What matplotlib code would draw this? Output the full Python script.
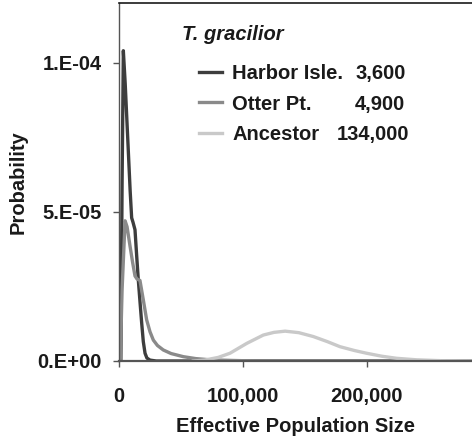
import matplotlib
matplotlib.use('Agg')
import matplotlib.pyplot as plt
import matplotlib.ticker as mtick

plt.rcParams['font.family'] = ['Liberation Sans', 'DejaVu Sans']
plt.rcParams['font.weight'] = 'bold'
plt.rcParams['axes.labelweight'] = 'bold'
plt.rcParams['font.size'] = 14.5

harbor_n = [0, 1500, 2500, 3500, 5000, 7000, 9000, 10200, 11300, 12900, 14300,
            15600, 17000, 18300, 19600, 21000, 22500, 25000, 30000, 290000]
harbor_p = [0, 0, 6.0e-5, 1.04e-4, 9.3e-5, 7.5e-5, 5.7e-5, 4.8e-5, 4.65e-5, 4.4e-5,
            3.5e-5, 2.7e-5, 1.95e-5, 1.27e-5, 6.5e-6, 2.6e-6, 1.0e-6, 3e-7, 0, 0]

otter_n = [0, 1000, 2500, 4900, 6500, 8900, 11000, 12900, 14500, 16900, 19600,
           22300, 25000, 27700, 31000, 35700, 42000, 51900, 62000, 73400, 90000,
           110000, 290000]
otter_p = [0, 0, 2.4e-5, 4.7e-5, 4.5e-5, 3.85e-5, 3.3e-5, 2.85e-5, 2.75e-5, 2.7e-5,
           2.05e-5, 1.38e-5, 9.8e-6, 7.0e-6, 5.2e-6, 3.7e-6, 2.5e-6, 1.45e-6, 8e-7,
           4e-7, 2e-7, 0, 0]

anc_n = [60000, 69000, 80000, 89500, 103000, 116400, 125000, 134000, 145000,
         156700, 168000, 178200, 190000, 199700, 212000, 224000, 240000, 260000,
         290000]
anc_p = [0, 3e-7, 1.2e-6, 2.6e-6, 5.9e-6, 8.7e-6, 9.6e-6, 1.0e-5, 9.5e-6, 8.2e-6,
         6.5e-6, 4.8e-6, 3.5e-6, 2.6e-6, 1.6e-6, 9e-7, 4e-7, 1e-7, 0]

names = ['Harbor Isle.', 'Otter Pt.', 'Ancestor']
ne_labels = ['3,600', '4,900', '134,000']
colors = ['#3d3d3d', '#8a8a8a', '#c9c9c9']

xticks = [0, 100000, 200000]
xticklabels = ['0', '100,000', '200,000']
yticks = [0, 5e-5, 1e-4]
yticklabels = ['0.E+00', '5.E-05', '1.E-04']

fig = plt.figure(figsize=(4.72, 4.42), dpi=100)
ax = fig.add_axes([119 / 472, 81 / 442, 353 / 472, 358 / 442])

lines = []
for n, p, c in zip([harbor_n, otter_n, anc_n], [harbor_p, otter_p, anc_p], colors):
    ln, = ax.plot(n, p, color=c, lw=2.4, solid_joinstyle='round')
    lines.append(ln)

ax.set_xlim(0, 284700)
ax.set_ylim(0, 1.2e-4)
ax.xaxis.set_major_locator(mtick.FixedLocator(xticks))
ax.xaxis.set_major_formatter(mtick.FixedFormatter(xticklabels))
ax.yaxis.set_major_locator(mtick.FixedLocator(yticks))
ax.yaxis.set_major_formatter(mtick.FixedFormatter(yticklabels))

ax.spines['right'].set_visible(False)
ax.spines['top'].set_color('#1a1a1a')
ax.spines['top'].set_linewidth(1.2)
ax.spines['left'].set_color('#555555')
ax.spines['left'].set_linewidth(1.0)
ax.spines['bottom'].set_color('#555555')
ax.spines['bottom'].set_linewidth(1.6)
ax.tick_params(axis='y', direction='out', length=4.5, width=1, color='#555555', pad=8,
               labelcolor='#1a1a1a')
ax.tick_params(axis='x', direction='out', length=4.5, width=1, color='#555555', pad=14,
               labelcolor='#1a1a1a')

ax.set_xlabel('Effective Population Size', color='#1a1a1a', labelpad=8)
ax.set_ylabel('Probability', color='#1a1a1a', labelpad=7)

leg = ax.legend(lines, names, loc='upper left', bbox_to_anchor=(0.227, 0.830),
                frameon=False, borderpad=0, borderaxespad=0, handlelength=1.15,
                handletextpad=0.5, labelspacing=0.58)
for t in leg.get_texts():
    t.set_color('#1a1a1a')

ax.text(0.178, 0.913, 'T. gracilior', transform=ax.transAxes, style='italic',
        ha='left', va='center', color='#1a1a1a')

# Ne estimates sit on the same rows as the legend entries
fig.canvas.draw()
for t, x, s in zip(leg.get_texts(), [356, 355, 337], ne_labels):
    bb = t.get_window_extent()
    fig.text(x / 472, (bb.y0 + bb.y1) / 2 / 442, s, ha='left', va='center',
             color='#1a1a1a')

fig.savefig('out.png', dpi=100)
